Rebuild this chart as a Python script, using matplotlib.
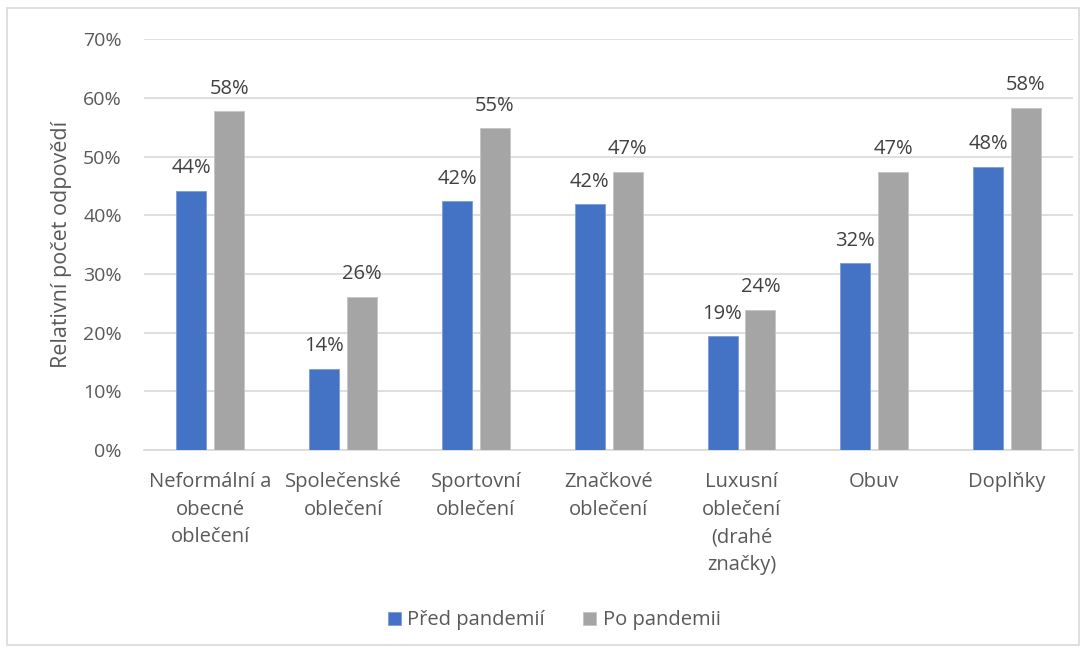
import matplotlib.pyplot as plt
import numpy as np
from matplotlib.patches import Rectangle

plt.rcParams['font.family'] = ['Open Sans', 'DejaVu Sans']

categories = ['Neformální a\nobecné\noblečení', 'Společenské\noblečení', 'Sportovní\noblečení',
              'Značkové\noblečení', 'Luxusní\noblečení\n(drahé\nznačky)', 'Obuv', 'Doplňky']
pred = [0.442, 0.138, 0.424, 0.419, 0.194, 0.318, 0.483]
po = [0.577, 0.261, 0.548, 0.474, 0.239, 0.474, 0.583]
series_names = ['Před pandemií', 'Po pandemii']

blue = '#4472C4'
gray = '#A5A5A5'
text_col = '#595959'

fig = plt.figure(figsize=(10.87, 6.53), dpi=100)
ax = fig.add_axes([0.1325, 0.311, 0.855, 0.629])

x = np.arange(len(categories))
w = 0.226
b1 = ax.bar(x - 0.143, pred, w, color=blue, edgecolor='#7C9BD6', linewidth=0.6, label=series_names[0], zorder=3)
b2 = ax.bar(x + 0.143, po, w, color=gray, edgecolor='#C4C4C4', linewidth=0.6, label=series_names[1], zorder=3)

for bars in (b1, b2):
    for r in bars:
        v = r.get_height()
        ax.annotate(f'{v * 100:.0f}%', (r.get_x() + r.get_width() / 2, v),
                    xytext=(0, 9), textcoords='offset points', ha='center', va='bottom',
                    fontsize=14.5, color='#404040')

ax.set_xlim(-0.5, len(categories) - 0.5)
ax.set_ylim(0, 0.7)
ax.set_yticks(np.arange(0, 0.71, 0.1))
ax.set_yticklabels([f'{int(round(t * 100))}%' for t in np.arange(0, 0.71, 0.1)])
ax.set_xticks(x)
ax.set_xticklabels(categories, linespacing=1.5)
ax.tick_params(axis='both', length=0, labelsize=14, colors=text_col)
ax.tick_params(axis='x', labelsize=14.5, pad=16)
ax.tick_params(axis='y', pad=16)
ax.grid(axis='y', color='#D9D9D9', linewidth=1.2, zorder=0)
for s in ['top', 'right', 'left']:
    ax.spines[s].set_visible(False)
ax.spines['bottom'].set_color('#D9D9D9')
ax.spines['bottom'].set_linewidth(1.2)

ax.set_ylabel('Relativní počet odpovědí', fontsize=15.5, color=text_col, labelpad=8)

fig.legend(loc='center', bbox_to_anchor=(0.51, 0.05), ncol=2, frameon=False,
           fontsize=14.5, labelcolor=text_col, handlelength=0.65, handleheight=0.65,
           handletextpad=0.3, columnspacing=1.9)

# chart frame
fig.add_artist(Rectangle((0.006, 0.012), 0.987, 0.975, transform=fig.transFigure,
                         fill=False, edgecolor='#D9D9D9', linewidth=1.2))

fig.savefig('out.png', dpi=100)
